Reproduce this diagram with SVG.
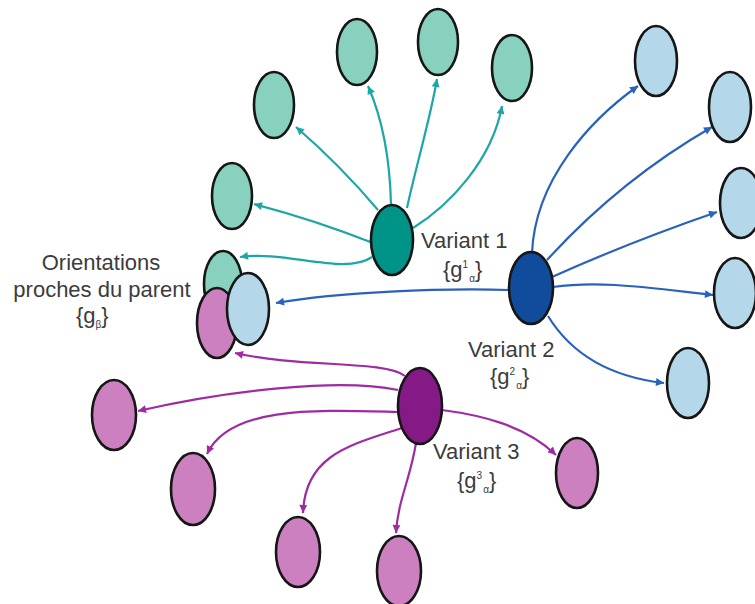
<svg xmlns="http://www.w3.org/2000/svg" width="755" height="604" viewBox="0 0 755 604">
  <defs>
    <style>
      .node { stroke: #161616; stroke-width: 2.6; }
      .leaf-teal { fill: #88d1bf; }
      .leaf-blue { fill: #b4d7ea; }
      .leaf-pink { fill: #cc80bf; }
      .var-teal { fill: #009489; }
      .var-blue { fill: #104c9b; }
      .var-purple { fill: #851a86; }
      .edge { fill: none; stroke-width: 2.2; }
      .e-teal { stroke: #1ea6a6; marker-end: url(#arrow-teal); }
      .e-blue { stroke: #2962bd; marker-end: url(#arrow-blue); }
      .e-purple { stroke: #9e2ba3; marker-end: url(#arrow-purple); }
      .label { font-family: "Liberation Sans", Arial, sans-serif; font-size: 22px; fill: #3c3c3c; }
      .small { font-size: 10px; }
    </style>
    <marker id="arrow-teal" viewBox="0 0 10 10" refX="10" refY="5" markerWidth="9" markerHeight="8" markerUnits="userSpaceOnUse" orient="auto">
      <path d="M0,0 L10,5 L0,10 z" fill="#1ea6a6"/>
    </marker>
    <marker id="arrow-blue" viewBox="0 0 10 10" refX="10" refY="5" markerWidth="9" markerHeight="8" markerUnits="userSpaceOnUse" orient="auto">
      <path d="M0,0 L10,5 L0,10 z" fill="#2962bd"/>
    </marker>
    <marker id="arrow-purple" viewBox="0 0 10 10" refX="10" refY="5" markerWidth="9" markerHeight="8" markerUnits="userSpaceOnUse" orient="auto">
      <path d="M0,0 L10,5 L0,10 z" fill="#9e2ba3"/>
    </marker>
  </defs>

  <rect width="755" height="604" fill="#ffffff"/>

  <!-- connectors -->
  <g id="connectors">
    <!-- variant 1 -->
    <path class="edge e-teal" d="M373,243 Q315,220 254,204"/>
    <path class="edge e-teal" d="M378,210 Q340,165 296,127"/>
    <path class="edge e-teal" d="M391,205 C390,160 383,120 368,86"/>
    <path class="edge e-teal" d="M407,208 C415,170 430,120 437,79"/>
    <path class="edge e-teal" d="M413,228 C450,205 492,160 502,106"/>
    <path class="edge e-teal" d="M372,257 C345,276 285,250 240,257"/>
    <!-- variant 2 -->
    <path class="edge e-blue" d="M532,253 C535,180 590,120 638,86"/>
    <path class="edge e-blue" d="M547,260 Q620,180 712,127"/>
    <path class="edge e-blue" d="M552,277 Q630,242 717,212"/>
    <path class="edge e-blue" d="M553,287 C600,280 650,288 713,295"/>
    <path class="edge e-blue" d="M548,316 C575,360 620,378 664,383"/>
    <path class="edge e-blue" d="M509,290 C440,288 340,292 276,303"/>
    <!-- variant 3 -->
    <path class="edge e-purple" d="M405,376 C385,360 300,368 235,353"/>
    <path class="edge e-purple" d="M398,390 C340,378 230,390 138,411"/>
    <path class="edge e-purple" d="M398,412 C320,410 230,405 207,454"/>
    <path class="edge e-purple" d="M402,428 C350,445 305,455 303,513"/>
    <path class="edge e-purple" d="M416,443 C410,480 398,500 396,533"/>
    <path class="edge e-purple" d="M442,410 C480,415 525,425 556,455"/>
  </g>

  <!-- variant 1 children -->
  <g id="t1"><ellipse class="node leaf-teal" cx="232" cy="196" rx="20" ry="33"/></g>
  <g id="t2"><ellipse class="node leaf-teal" cx="274" cy="105" rx="20" ry="33"/></g>
  <g id="t3"><ellipse class="node leaf-teal" cx="357" cy="52" rx="20" ry="33"/></g>
  <g id="t4"><ellipse class="node leaf-teal" cx="438" cy="42" rx="20" ry="33"/></g>
  <g id="t5"><ellipse class="node leaf-teal" cx="512" cy="68" rx="20" ry="33"/></g>

  <!-- variant 2 children -->
  <g id="b1"><ellipse class="node leaf-blue" cx="656" cy="61" rx="21" ry="35"/></g>
  <g id="b2"><ellipse class="node leaf-blue" cx="730" cy="107" rx="21" ry="35"/></g>
  <g id="b3"><ellipse class="node leaf-blue" cx="741" cy="203" rx="21" ry="35"/></g>
  <g id="b4"><ellipse class="node leaf-blue" cx="735" cy="293" rx="21" ry="35"/></g>
  <g id="b5"><ellipse class="node leaf-blue" cx="688" cy="383" rx="21" ry="35"/></g>

  <!-- variant 3 children -->
  <g id="p1"><ellipse class="node leaf-pink" cx="114" cy="415" rx="22" ry="35"/></g>
  <g id="p2"><ellipse class="node leaf-pink" cx="193" cy="489" rx="22" ry="36"/></g>
  <g id="p3"><ellipse class="node leaf-pink" cx="298" cy="552" rx="22" ry="35"/></g>
  <g id="p4"><ellipse class="node leaf-pink" cx="399" cy="571" rx="22" ry="35"/></g>
  <g id="p5"><ellipse class="node leaf-pink" cx="577" cy="473" rx="21" ry="35"/></g>

  <!-- parent orientations (stacked) -->
  <g id="parent-teal"><ellipse class="node leaf-teal" cx="223" cy="284" rx="19" ry="33"/></g>
  <g id="parent-pink"><ellipse class="node leaf-pink" cx="217" cy="323" rx="20" ry="35"/></g>
  <g id="parent-blue"><ellipse class="node leaf-blue" cx="248" cy="309" rx="21" ry="36"/></g>

  <!-- variants -->
  <g id="variant1"><ellipse class="node var-teal" cx="392" cy="240" rx="21" ry="35"/></g>
  <g id="variant2"><ellipse class="node var-blue" cx="531" cy="288" rx="22" ry="36"/></g>
  <g id="variant3"><ellipse class="node var-purple" cx="420" cy="406" rx="22" ry="38"/></g>

  <!-- labels -->
  <g id="labels">
    <text class="label" x="101" y="270" text-anchor="middle">Orientations</text>
    <text class="label" x="102" y="297" text-anchor="middle">proches du parent</text>
    <text class="label" x="76" y="323">{g<tspan class="small" dy="5">β</tspan><tspan dy="-5">}</tspan></text>

    <text class="label" x="421" y="248">Variant 1</text>
    <text class="label" x="443" y="277">{g<tspan class="small" dy="-9">1</tspan><tspan class="small" dx="1" dy="14">α</tspan><tspan dy="-5">}</tspan></text>

    <text class="label" x="468" y="357">Variant 2</text>
    <text class="label" x="490" y="384">{g<tspan class="small" dy="-9">2</tspan><tspan class="small" dx="1" dy="14">α</tspan><tspan dy="-5">}</tspan></text>

    <text class="label" x="433" y="459">Variant 3</text>
    <text class="label" x="457" y="488">{g<tspan class="small" dy="-9">3</tspan><tspan class="small" dx="1" dy="14">α</tspan><tspan dy="-5">}</tspan></text>
  </g>
</svg>
